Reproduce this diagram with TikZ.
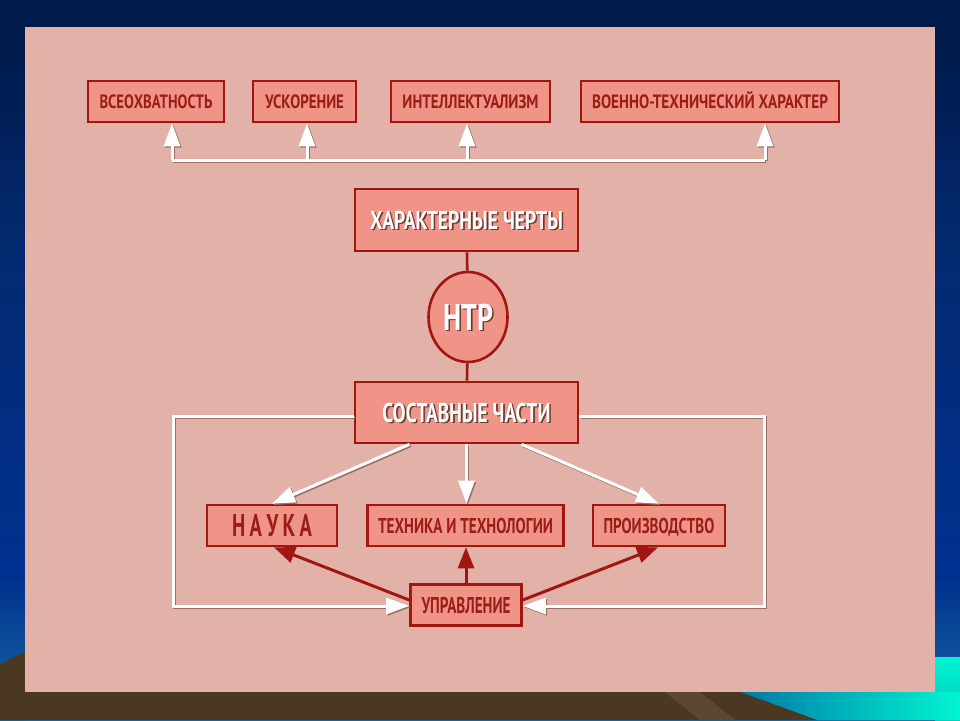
\documentclass[tikz,border=0pt]{standalone}
\usepackage{graphicx}
\usepackage{fontspec}
\setmainfont{PT Sans}
\usetikzlibrary{arrows.meta,shapes.geometric,calc}
\definecolor{panel}{HTML}{E2B2A8}
\definecolor{boxfill}{HTML}{F09488}
\definecolor{boxline}{HTML}{A21612}
\definecolor{txtred}{HTML}{9A1E16}
\definecolor{shc}{HTML}{9C7068}
\definecolor{tshc}{HTML}{6B3A30}
\definecolor{brownc}{HTML}{4A3820}
\definecolor{brownl}{HTML}{5C4830}
\definecolor{bgA}{HTML}{30C0C8}
\definecolor{bgB}{HTML}{2080A8}
\definecolor{bgC}{HTML}{00308F}
\definecolor{bgD}{HTML}{042A70}
\definecolor{bgE}{HTML}{001A4A}
\definecolor{aquaT}{HTML}{00F5D0}
\definecolor{aquaB}{HTML}{00C8C0}
\definecolor{seaL}{HTML}{0078A8}
\pgfdeclareverticalshading{bgsh}{100bp}{color(0bp)=(bgA); color(10bp)=(bgA); color(21bp)=(bgB); color(35bp)=(bgC); color(58bp)=(bgD); color(72bp)=(bgE); color(100bp)=(bgE)}
\newcommand\fitT[3]{\resizebox{#1pt}{#2pt}{\smash{\bfseries #3}\vphantom{\bfseries Н}}}
\newcommand\shtext[1]{\makebox[0pt][l]{\kern1.6pt\smash{\raisebox{-1.6pt}{\color{tshc}#1}}}{\color{white}#1}}
\newcommand\whiteconnectors{%
  \draw[wl] (t1) -- (t4);
  \draw[wa] (t1) -- (t1 |- vse.south);
  \draw[wa] (t2) -- (t2 |- usk.south);
  \draw[wa] (t3) -- (t3 |- intel.south);
  \draw[wa] (t4) -- (t4 |- voen.south);
  \draw[wa] ([xshift=-57pt]sost.south) -- (nauka.north);
  \draw[wa] (sost.south) -- (sost.south |- tech.north);
  \draw[wa] ([xshift=55pt]sost.south) -- (proiz.north);
  \draw[wa] (sost.west |- lt) -- (lt) -- (lb) -- (upr.west |- lb);
  \draw[wa] (sost.east |- rt) -- (rt) -- (rb) -- (upr.east |- rb);
}
\begin{document}
\begin{tikzpicture}[x=1pt,y=-1pt,
  box/.style={draw=boxline, line width=2.6pt, fill=boxfill, inner sep=0pt, minimum height=41pt, text=txtred},
  wl/.style={draw=white, line width=3pt},
  wa/.style={wl, -{Triangle[length=23pt,width=16pt]}},
  ra/.style={draw=boxline, line width=3pt, -{Triangle[length=21pt,width=16pt]}},
  rl/.style={draw=boxline, line width=2.6pt}]
\useasboundingbox (0,0) rectangle (960,720);
% slide background
\shade[shading=bgsh] (0,0) rectangle (960,720);
\fill[brownc] (0,664) .. controls (10,659) .. (25,652) -- (25,720) -- (0,720) -- cycle;
\shade[top color=aquaT, bottom color=aquaB] (935,657) rectangle (960,720);
\shade[left color=seaL, right color=aquaT] (740,692) -- (960,692) -- (960,720) -- (817,720) -- cycle;
\fill[brownc] (0,692) -- (740,692) -- (817,720) -- (0,720) -- cycle;
\fill[brownl] (665,692) -- (700,692) -- (735,720) -- (700,720) -- cycle;
% panel
\fill[panel] (25,27) rectangle (935,692);
% nodes
\node[box, minimum width=136pt] (vse) at (156,101.5) {\fitT{113}{13.5}{ВСЕОХВАТНОСТЬ}};
\node[box, minimum width=103pt] (usk) at (304.5,101.5) {\fitT{79}{13.5}{УСКОРЕНИЕ}};
\node[box, minimum width=159pt] (intel) at (470.5,101.5) {\fitT{136}{13.5}{ИНТЕЛЛЕКТУАЛИЗМ}};
\node[box, minimum width=258pt] (voen) at (710,101.5) {\fitT{236}{13.5}{ВОЕННО-ТЕХНИЧЕСКИЙ ХАРАКТЕР}};
\node[box, minimum width=223pt, minimum height=62pt] (har) at (466.5,220) {\shtext{\fitT{193}{18}{ХАРАКТЕРНЫЕ ЧЕРТЫ}}};
\node[box, ellipse, minimum width=79pt, minimum height=90pt] (ntr) at (468,317) {\shtext{\fitT{50}{26}{НТР}}};
\node[box, minimum width=223pt, minimum height=61pt] (sost) at (466.5,412.5) {\shtext{\fitT{168}{19}{СОСТАВНЫЕ ЧАСТИ}}};
\node[box, minimum width=130pt] (nauka) at (272,525.5) {\fitT{80}{22}{Н\hspace{.22em}А\hspace{.22em}У\hspace{.22em}К\hspace{.22em}А}};
\node[box, minimum width=196pt] (tech) at (465.5,525.5) {\fitT{175}{15}{ТЕХНИКА И ТЕХНОЛОГИИ}};
\node[box, minimum width=132pt] (proiz) at (659,525.5) {\fitT{111}{15}{ПРОИЗВОДСТВО}};
\node[box, minimum width=111pt] (upr) at (466,605) {\fitT{89}{16}{УПРАВЛЕНИЕ}};
% helper coordinates
\coordinate (t1) at (172,160);
\coordinate (t2) at (307,160);
\coordinate (t3) at (467,160);
\coordinate (t4) at (765,160);
\coordinate (lt) at (173,416);
\coordinate (lb) at (173,606);
\coordinate (rt) at (764,416);
\coordinate (rb) at (764,606);
% white connectors: shadow then line
\begin{scope}[transform canvas={shift={(1.3pt,-1.3pt)}}]
  \tikzset{wl/.style={draw=shc, line width=3pt}}
  \whiteconnectors
\end{scope}
\whiteconnectors
% dark red connectors
\draw[rl] (har) -- (ntr);
\draw[rl] (ntr) -- (sost);
\draw[ra] ([yshift=5pt]upr.west) -- ([xshift=2pt]nauka.south);
\draw[ra] (upr.north) -- (upr.north |- tech.south);
\draw[ra] ([yshift=5pt]upr.east) -- ([xshift=-1pt]proiz.south);
\end{tikzpicture}
\end{document}
